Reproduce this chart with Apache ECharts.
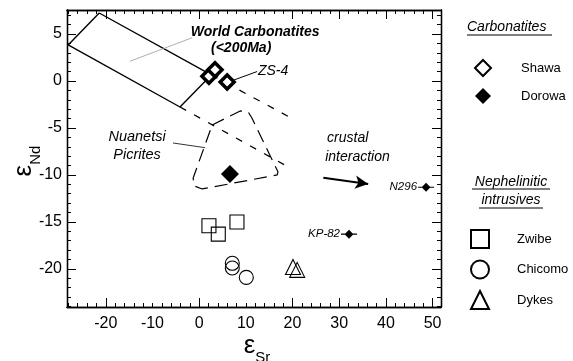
<!DOCTYPE html>
<html><head><meta charset="utf-8">
<script src="https://cdn.jsdelivr.net/npm/echarts@6/dist/echarts.min.js"></script>
<style>html,body{margin:0;padding:0;background:#fff}#c{width:573px;height:361px}</style>
</head><body><div id="c"></div>
<script>
// ---- axis definitions ----
const xTickLabels = [-20, -10, 0, 10, 20, 30, 40, 50];
const yTickLabels = [-20, -15, -10, -5, 0, 5];
const xLongTicks = [-20, 0, 20, 30, 40, 50];
const yLongTicks = [-20, -15, -10, -5, 0, 5];
const xRange = [-28.3, 51.8];
const yRange = [-24.05, 7.55];
const xName = '{e|ε}{s|Sr}';
const yName = '{e|ε}{s|Nd}';

// ---- samples ----
const shawa = [[2.1, 0.5], [3.4, 1.2], [6.0, -0.1]];
const dorowa = [[6.6, -9.9]];
const namedSamples = [[48.6, -11.3], [32.1, -16.3]];
const namedSampleLabels = ['N296', 'KP-82'];
const zwibe = [[2.1, -15.4], [4.1, -16.3], [8.1, -15.0]];
const chicomo = [[7.1, -19.4], [7.1, -19.9], [10.1, -20.9]];
const dykes = [[20.1, -19.8], [21.0, -20.1]];

// ---- fields & trends ----
const worldCarbonatitesField = [[-21.4, 7.23], [2.6, 0.64], [-4.1, -2.77], [-28.05, 3.83], [-21.4, 7.23]];
const upperTrend = [[2.6, 0.64], [19.3, -3.83]];
const lowerTrend = [[-4.1, -2.77], [19.5, -9.26]];
const nuanetsiField = [[2.8, -4.68], [8.8, -3.19], [10.5, -3.3], [11.3, -3.94], [16.9, -9.68], [16.7, -10.0], [0.64, -11.49], [-1.07, -11.17], [-1.28, -10.32], [2.8, -4.68]];
const zs4Leader = [[6.9, 0.0], [12.4, 1.0]];
const worldLeader = [[-14.8, 2.1], [-1.5, 4.6]];
const nuanetsiLeader = [[-5.6, -6.6], [1.3, -7.1]];
const crustalArrow = [[26.6, -10.3], [36.2, -10.96]];

// ---- annotations ----
const noteTexts = ['World Carbonatites', '(<200Ma)', 'ZS-4', 'Nuanetsi', 'Picrites', 'crustal', 'interaction'];
const notePoints = [[12.0, 5.2], [9.0, 3.5], [12.6, 1.0], [-13.3, -6.0], [-13.3, -7.9], [27.4, -6.1], [27.0, -8.1]];

const FONT = 'Liberation Sans, Arial, Helvetica, sans-serif';
function range(a, b, s) { const r = []; for (let v = a; v <= b + 1e-9; v += s) r.push(Math.round(v * 100) / 100); return r; }
const xShortTicks = range(-28, 50, 2);
const yShortTicks = range(-24, 7, 1);

function mkAxis(pos, ticks, len, labels, extra) {
  return Object.assign({
    type: 'value', position: pos,
    min: (pos === 'bottom' || pos === 'top') ? xRange[0] : yRange[0],
    max: (pos === 'bottom' || pos === 'top') ? xRange[1] : yRange[1],
    axisLine: { show: true, onZero: false, lineStyle: { color: '#000', width: 1.3 } },
    axisTick: { show: true, inside: true, length: len, customValues: ticks, lineStyle: { color: '#000', width: 1 } },
    axisLabel: labels ? { show: true, customValues: labels, color: '#000', fontSize: 16, fontFamily: FONT, margin: (pos === 'bottom') ? 9 : 5 } : { show: false },
    splitLine: { show: false }
  }, extra || {});
}

const lineBase = { type: 'line', showSymbol: false, symbol: 'none', silent: true, z: 1 };
const annotStyle = [
  { fontWeight: 'bold', fontStyle: 'italic', fontSize: 14, align: 'center' },
  { fontWeight: 'bold', fontStyle: 'italic', fontSize: 14, align: 'center' },
  { fontStyle: 'italic', fontSize: 14, align: 'left' },
  { fontStyle: 'italic', fontSize: 14.5, align: 'center' },
  { fontStyle: 'italic', fontSize: 14.5, align: 'center' },
  { fontStyle: 'italic', fontSize: 14, align: 'left' },
  { fontStyle: 'italic', fontSize: 14, align: 'left' }
];
const openStyle = { color: 'rgba(255,255,255,0)', borderColor: '#000', borderWidth: 1.1, opacity: 1 };
const nameRich = {
  e: { fontSize: 26, fontFamily: FONT, fill: '#000', padding: [0, 0, 6, 0], verticalAlign: 'bottom' },
  s: { fontSize: 15, fontFamily: FONT, fill: '#000', verticalAlign: 'bottom' }
};

const option = {
  animation: false,
  backgroundColor: '#fff',
  grid: { left: 67, right: 132, top: 10, bottom: 54, containLabel: false, outerBoundsMode: 'none' },
  xAxis: [
    mkAxis('bottom', xShortTicks, 4, xTickLabels),
    mkAxis('top', xShortTicks, 4, null),
    mkAxis('bottom', xLongTicks, 9, null),
    mkAxis('top', xLongTicks, 9, null)
  ],
  yAxis: [
    mkAxis('left', yShortTicks, 4, yTickLabels),
    mkAxis('right', yShortTicks, 4, null),
    mkAxis('left', yLongTicks, 9, null),
    mkAxis('right', yLongTicks, 9, null)
  ],
  legend: [
    {
      data: ['Shawa', 'Dorowa'], orient: 'vertical', left: 469, top: 54,
      itemWidth: 16, itemHeight: 16, itemGap: 11, selectedMode: false,
      textStyle: { color: '#000', fontSize: 13, fontFamily: FONT, padding: [0, 0, 0, 25] }
    },
    {
      data: ['Zwibe', 'Chicomo', 'Dykes'], orient: 'vertical', left: 465, top: 224,
      itemWidth: 18, itemHeight: 18, itemGap: 10.5, selectedMode: false,
      textStyle: { color: '#000', fontSize: 13, fontFamily: FONT, padding: [0, 0, 0, 23] }
    }
  ],
  graphic: [
    { type: 'text', x: 257, y: 349, style: { x: 0, y: 0, text: xName, rich: nameRich, align: 'center', verticalAlign: 'middle', fill: '#000' } },
    { type: 'text', x: 27, y: 161, rotation: Math.PI / 2, style: { x: 0, y: 0, text: yName, rich: nameRich, align: 'center', verticalAlign: 'middle', fill: '#000' } },
    { type: 'text', style: { x: 467, y: 27, text: 'Carbonatites', textVerticalAlign: 'middle', font: 'italic 14px ' + FONT, fill: '#000' } },
    { type: 'line', shape: { x1: 467, y1: 35, x2: 552, y2: 35 }, style: { stroke: '#000', lineWidth: 1 } },
    { type: 'text', style: { x: 511, y: 182, text: 'Nephelinitic', textAlign: 'center', textVerticalAlign: 'middle', font: 'italic 14px ' + FONT, fill: '#000' } },
    { type: 'line', shape: { x1: 472, y1: 189, x2: 550, y2: 189 }, style: { stroke: '#000', lineWidth: 1 } },
    { type: 'text', style: { x: 511, y: 200, text: 'intrusives', textAlign: 'center', textVerticalAlign: 'middle', font: 'italic 14px ' + FONT, fill: '#000' } },
    { type: 'line', shape: { x1: 479, y1: 208, x2: 543, y2: 208 }, style: { stroke: '#000', lineWidth: 1 } }
  ],
  series: [
    Object.assign({}, lineBase, { name: 'field-world', data: worldCarbonatitesField, lineStyle: { color: '#000', width: 1.4 } }),
    Object.assign({}, lineBase, { name: 'trend-upper', data: upperTrend, lineStyle: { color: '#000', width: 1.2, type: [7, 9] } }),
    Object.assign({}, lineBase, { name: 'trend-lower', data: lowerTrend, lineStyle: { color: '#000', width: 1.2, type: [7, 9] },
      markLine: { silent: true, symbol: ['none', 'arrow'], symbolSize: [10, 13], label: { show: false },
        lineStyle: { color: '#000', width: 2, type: 'solid', opacity: 1 },
        data: [[{ coord: crustalArrow[0] }, { coord: crustalArrow[1] }]] } }),
    Object.assign({}, lineBase, { name: 'field-nuanetsi', data: nuanetsiField, lineStyle: { color: '#000', width: 1.2, type: [13, 7] } }),
    Object.assign({}, lineBase, { name: 'lead-zs4', data: zs4Leader, lineStyle: { color: '#000', width: 1 } }),
    Object.assign({}, lineBase, { name: 'lead-world', data: worldLeader, lineStyle: { color: '#999', width: 0.8 } }),
    Object.assign({}, lineBase, { name: 'lead-nuanetsi', data: nuanetsiLeader, lineStyle: { color: '#000', width: 0.8 } }),
    { name: 'notes', type: 'scatter', symbolSize: 0, silent: true, z: 5, itemStyle: { opacity: 1 },
      data: notePoints.map((p, i) => ({ value: p, label: Object.assign({ show: true, position: 'inside', formatter: noteTexts[i], color: '#000', opacity: 1, fontFamily: FONT, verticalAlign: 'middle' }, annotStyle[i], annotStyle[i].align === 'left' ? { position: 'right', distance: 0 } : {}) })) },
    { name: 'Shawa', type: 'scatter', data: shawa, symbol: 'diamond', symbolSize: 14, z: 4,
      itemStyle: { color: '#fff', borderColor: '#000', borderWidth: 3.5, opacity: 1 } },
    { name: 'Dorowa', type: 'scatter', data: dorowa, symbol: 'diamond', symbolSize: 18, z: 4,
      itemStyle: { color: '#000', borderColor: '#000', borderWidth: 0, opacity: 1 } },
    { name: 'named', type: 'scatter', data: namedSamples, z: 4,
      symbol: 'path://M0,5L5,0L10,5L5,10Z M-4,4.4L14,4.4L14,5.6L-4,5.6Z', symbolSize: [16, 9],
      itemStyle: { color: '#000', opacity: 1 },
      label: { show: true, position: 'left', distance: 1, formatter: p => namedSampleLabels[p.dataIndex], color: '#000', fontStyle: 'italic', fontSize: 11.5, fontFamily: FONT } },
    { name: 'Zwibe', type: 'scatter', data: zwibe, symbol: 'rect', symbolSize: 14, z: 3, itemStyle: openStyle },
    { name: 'Chicomo', type: 'scatter', data: chicomo, symbol: 'circle', symbolSize: 14, z: 3, itemStyle: openStyle },
    { name: 'Dykes', type: 'scatter', data: dykes, symbol: 'triangle', symbolSize: 15, z: 3, itemStyle: openStyle }
  ]
};

const chart = echarts.init(document.getElementById('c'), null, { renderer: 'canvas' });
chart.setOption(option);
</script>
</body></html>
